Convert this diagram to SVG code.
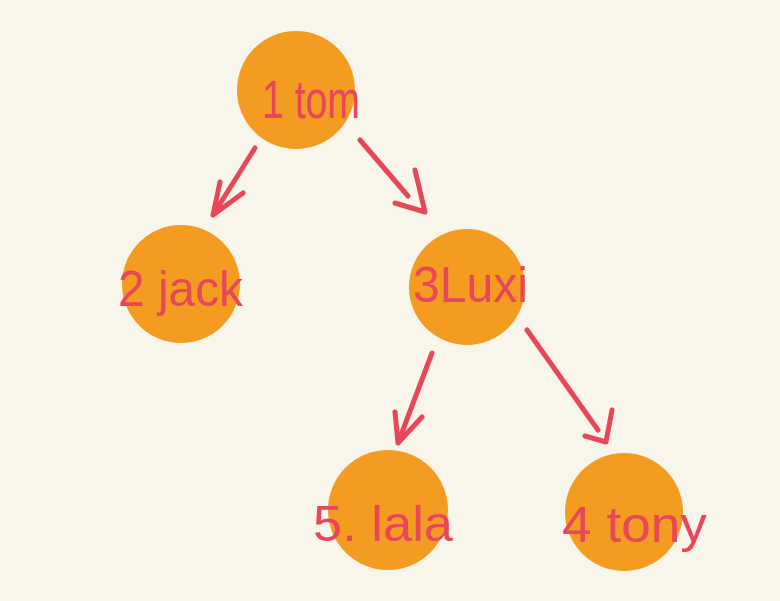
<svg xmlns="http://www.w3.org/2000/svg" width="780" height="601" viewBox="0 0 780 601">
<style>
.node{fill:#f49b22}
.lbl{font-family:"Liberation Sans","DejaVu Sans",sans-serif;font-size:50px;fill:#e8475a}
.edge{fill:none;stroke:#e8475a;stroke-width:5;stroke-linecap:round;stroke-linejoin:round}
</style>
<rect width="780" height="601" fill="#f8f5ea"/>
<g id="edges">
<path class="edge" d="M255,148 L213,215 M220,182 L213,215 L243,193"/>
<path class="edge" d="M360,140 L408,196 M415,170 L425,212 L395,203"/>
<path class="edge" d="M432,353 L398,443 M395,412 L398,443 L422,417"/>
<path class="edge" d="M527,330 L598,430 M612,410 L606,442 L585,436"/>
</g>
<g id="n1"><circle class="node" cx="296" cy="90" r="59"/><text class="lbl" x="262" y="118" style="font-size:54px" textLength="98" lengthAdjust="spacingAndGlyphs">1 tom</text></g>
<g id="n2"><circle class="node" cx="181" cy="284" r="59"/><text class="lbl" x="118" y="306" textLength="125" lengthAdjust="spacingAndGlyphs">2 jack</text></g>
<g id="n3"><circle class="node" cx="467" cy="287" r="58"/><text class="lbl" x="413" y="302" textLength="115" lengthAdjust="spacingAndGlyphs">3Luxi</text></g>
<g id="n5"><circle class="node" cx="388" cy="510" r="60"/><text class="lbl" x="313" y="541" textLength="140" lengthAdjust="spacingAndGlyphs">5. lala</text></g>
<g id="n4"><circle class="node" cx="624" cy="512" r="59"/><text class="lbl" x="562" y="542" textLength="145" lengthAdjust="spacingAndGlyphs">4 tony</text></g>
</svg>
